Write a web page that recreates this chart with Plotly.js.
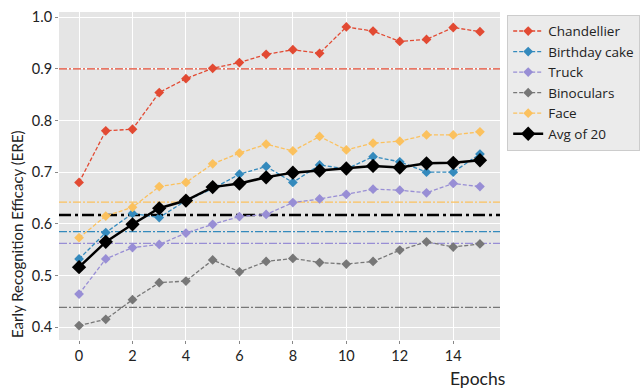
<!DOCTYPE html>
<html>
<head>
<meta charset="utf-8">
<script src="https://cdn.plot.ly/plotly-3.0.1.min.js"></script>
<style>html,body{margin:0;padding:0;background:#fff;}#chart{width:642px;height:388px;}</style>
</head>
<body>
<div id="chart"></div>
<script>
const epochs = [0,1,2,3,4,5,6,7,8,9,10,11,12,13,14,15];
const seriesNames = ["Chandellier","Birthday cake","Truck","Binoculars","Face","Avg of 20"];
const chandellier = [0.680,0.780,0.783,0.854,0.881,0.901,0.912,0.928,0.937,0.930,0.981,0.973,0.953,0.957,0.980,0.972];
const birthdayCake = [0.532,0.583,0.620,0.612,0.645,0.668,0.696,0.711,0.680,0.714,0.706,0.730,0.720,0.700,0.700,0.735];
const truck = [0.464,0.532,0.554,0.560,0.582,0.599,0.614,0.618,0.641,0.648,0.657,0.667,0.665,0.660,0.678,0.672];
const binoculars = [0.403,0.415,0.453,0.486,0.489,0.530,0.507,0.527,0.533,0.525,0.522,0.527,0.549,0.565,0.555,0.561];
const face = [0.573,0.615,0.632,0.672,0.680,0.716,0.737,0.754,0.741,0.769,0.743,0.756,0.760,0.772,0.772,0.778];
const avg20 = [0.516,0.565,0.599,0.630,0.645,0.671,0.678,0.690,0.699,0.703,0.707,0.712,0.709,0.717,0.718,0.723];
// baseline (horizontal reference) values per series
const baselines = [0.900,0.585,0.562,0.438,0.642,0.617];
const colors = ["#E24A33","#348ABD","#988ED5","#777777","#FBC15E","#000000"];
const xTicks = [0,2,4,6,8,10,12,14];
const yTicks = [0.4,0.5,0.6,0.7,0.8,0.9,1.0];
const xRange = [-0.75,15.75];
const yRange = [0.375,1.01];

const allSeries = [chandellier,birthdayCake,truck,binoculars,face,avg20];
const FONT = "Lato, 'Open Sans', sans-serif";
const LFONT = "'Open Sans', Lato, sans-serif";

const hlineTraces = baselines.map((v,i)=>({
  x: xRange, y: [v,v], type:'scatter', mode:'lines', showlegend:false, hoverinfo:'skip',
  line:{color: colors[i], width: i===5?2.5:1.2, dash: i===5?'12px,4px,3px,4px':'8px,2px,2px,2px'}
}));

const traces = allSeries.map((vals,i)=>{
  const isAvg = i===5;
  return {
    x: epochs, y: vals, name: seriesNames[i], type: 'scatter', mode: 'lines+markers',
    line: {color: colors[i], width: isAvg?2.5:1.3, dash: isAvg?'solid':'4px,2px'},
    marker: {symbol: 'diamond', size: isAvg?11:7.5, color: colors[i]},
    hoverinfo: 'skip'
  };
});

const layout = {
  width: 642, height: 388,
  margin: {l:59, r:142, t:12, b:48},
  paper_bgcolor: '#ffffff', plot_bgcolor: '#E5E5E5',
  font: {family: FONT, size: 13, color: '#222'},
  xaxis: {range:xRange, tickvals: xTicks, ticktext: xTicks.map(String),
    showgrid:true, gridcolor:'#ffffff', gridwidth:1, zeroline:false, showline:false,
    ticks:'outside', ticklen:3, tickcolor:'#888', tickfont:{size:14.5, family:FONT, color:'#222'}},
  yaxis: {range:yRange, tickvals: yTicks, ticktext: yTicks.map(v=>v.toFixed(1)),
    showgrid:true, gridcolor:'#ffffff', gridwidth:1, zeroline:false, showline:false,
    ticks:'outside', ticklen:3, tickcolor:'#888', tickfont:{size:14.5, family:FONT, color:'#222'}},
  showlegend: true,
  legend: {xref:'container', yref:'container', x:0.79, xanchor:'left', y:0.962, yanchor:'top',
    bgcolor:'#EBEBEB', bordercolor:'#CCCCCC', borderwidth:1,
    font:{size:13.5, family:LFONT, color:'#222'}, tracegroupgap:0, itemwidth:30},
  annotations: [
    {text:'Epochs', xref:'paper', yref:'paper', x:1.017, xanchor:'right', y:-0.116, yanchor:'middle', showarrow:false,
     font:{size:17.5, family:FONT, color:'#222'}},
    {text:'Early Recognition Efficacy (ERE)', xref:'paper', yref:'paper', x:-0.095, xanchor:'center', y:0, yanchor:'bottom',
     textangle:-90, showarrow:false, font:{size:15, family:FONT, color:'#222'}}
  ]
};

Plotly.newPlot('chart', hlineTraces.concat(traces), layout, {displayModeBar:false, staticPlot:true});
</script>
</body>
</html>
